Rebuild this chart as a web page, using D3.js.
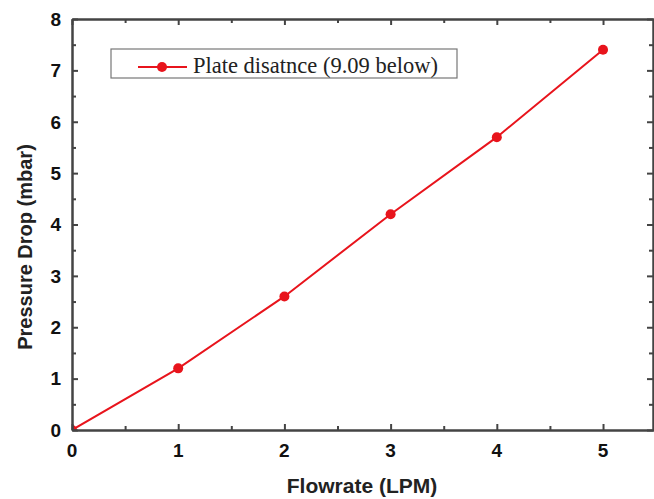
<!DOCTYPE html>
<html>
<head>
<meta charset="utf-8">
<script src="https://cdn.jsdelivr.net/npm/d3@7"></script>
<style>
  body { margin: 0; background: #fff; }
  svg { display: block; }
</style>
</head>
<body>
<div id="chart"></div>
<script>
// data
var flowrate = [0, 1, 2, 3, 4, 5];
var pressure = [0, 1.2, 2.6, 4.2, 5.7, 7.4];
var xTicks = [0, 1, 2, 3, 4, 5];
var yTicks = [0, 1, 2, 3, 4, 5, 6, 7, 8];
var seriesName = "Plate disatnce (9.09 below)";

var W = 654, H = 499;
var margin = {top: 19, right: 0, bottom: 69, left: 72};
var width = W - margin.left - margin.right,
    height = H - margin.top - margin.bottom;

var svg = d3.select("#chart")
  .append("svg")
    .attr("width", W)
    .attr("height", H);

var g = svg.append("g")
    .attr("transform", "translate(" + margin.left + "," + margin.top + ")");

var x = d3.scaleLinear().domain([0, 5.48]).range([0, width]);
var y = d3.scaleLinear().domain([0, 8]).range([height, 0]);

var axisColor = "#444";
var red = "#e8141c";

g.append("clipPath").attr("id", "clip")
  .append("rect").attr("width", width).attr("height", height);

// data line + markers
var pts = flowrate.map(function(d, i) { return [d, pressure[i]]; });
var plot = g.append("g").attr("clip-path", "url(#clip)");
plot.append("path")
  .datum(pts)
  .attr("fill", "none")
  .attr("stroke", red)
  .attr("stroke-width", 2)
  .attr("d", d3.line().x(function(d) { return x(d[0]); }).y(function(d) { return y(d[1]); }));
plot.selectAll("circle")
  .data(pts)
  .enter()
  .append("circle")
    .attr("cx", function(d) { return x(d[0]); })
    .attr("cy", function(d) { return y(d[1]); })
    .attr("r", 5)
    .attr("fill", red);

// axes with inward ticks, minor ticks at halves
var xMinor = d3.range(0.5, 5.5, 1);
var yMinor = d3.range(0.5, 8, 1);

function styleAxis(sel) {
  sel.selectAll("path").attr("stroke", axisColor).attr("stroke-width", 2);
  sel.selectAll("line").attr("stroke", axisColor).attr("stroke-width", 2);
  sel.selectAll("text").remove();
}

// bottom
g.append("g").attr("transform", "translate(0," + height + ")")
  .call(d3.axisTop(x).tickValues(xTicks).tickSize(6).tickSizeOuter(0)).call(styleAxis);
g.append("g").attr("transform", "translate(0," + height + ")")
  .call(d3.axisTop(x).tickValues(xMinor).tickSize(4).tickSizeOuter(0)).call(styleAxis);
// top
g.append("g")
  .call(d3.axisBottom(x).tickValues(xTicks).tickSize(6).tickSizeOuter(0)).call(styleAxis);
g.append("g")
  .call(d3.axisBottom(x).tickValues(xMinor).tickSize(4).tickSizeOuter(0)).call(styleAxis);
// left
g.append("g")
  .call(d3.axisRight(y).tickValues(yTicks).tickSize(6).tickSizeOuter(0)).call(styleAxis);
g.append("g")
  .call(d3.axisRight(y).tickValues(yMinor).tickSize(4).tickSizeOuter(0)).call(styleAxis);
// right
g.append("g").attr("transform", "translate(" + (width - 1) + ",0)")
  .call(d3.axisLeft(y).tickValues(yTicks).tickSize(6).tickSizeOuter(0)).call(styleAxis);
g.append("g").attr("transform", "translate(" + (width - 1) + ",0)")
  .call(d3.axisLeft(y).tickValues(yMinor).tickSize(4).tickSizeOuter(0)).call(styleAxis);

// tick labels
var labelFont = "Liberation Sans, Arial, sans-serif";
g.selectAll(".xlab")
  .data(xTicks)
  .enter()
  .append("text")
    .attr("x", function(d) { return x(d); })
    .attr("y", height + 27)
    .attr("text-anchor", "middle")
    .style("font-family", labelFont)
    .style("font-weight", "bold")
    .style("font-size", "19px")
    .attr("fill", "#111")
    .text(function(d) { return d; });
g.selectAll(".ylab")
  .data(yTicks)
  .enter()
  .append("text")
    .attr("x", -11)
    .attr("y", function(d) { return y(d); })
    .attr("dy", "0.36em")
    .attr("text-anchor", "end")
    .style("font-family", labelFont)
    .style("font-weight", "bold")
    .style("font-size", "19px")
    .attr("fill", "#111")
    .text(function(d) { return d; });

// axis titles
svg.append("text")
  .attr("x", 362)
  .attr("y", 493)
  .attr("text-anchor", "middle")
  .style("font-family", labelFont)
  .style("font-weight", "bold")
  .style("font-size", "21px")
  .attr("fill", "#222")
  .text("Flowrate (LPM)");
svg.append("text")
  .attr("transform", "translate(32," + 247 + ") rotate(-90)")
  .attr("text-anchor", "middle")
  .style("font-family", labelFont)
  .style("font-weight", "bold")
  .style("font-size", "20px")
  .attr("fill", "#222")
  .text("Pressure Drop (mbar)");

// legend
var leg = svg.append("g").attr("transform", "translate(111,49)");
leg.append("rect")
  .attr("width", 346).attr("height", 29)
  .attr("fill", "#fff")
  .attr("stroke", "#777").attr("stroke-width", 1.2);
leg.append("line")
  .attr("x1", 27).attr("x2", 76).attr("y1", 18).attr("y2", 18)
  .attr("stroke", red).attr("stroke-width", 2);
leg.append("circle")
  .attr("cx", 51).attr("cy", 18).attr("r", 5).attr("fill", red);
leg.append("text")
  .attr("x", 82).attr("y", 24)
  .style("font-family", "Liberation Serif, Times New Roman, serif")
  .style("font-size", "22.5px")
  .attr("fill", "#222")
  .text(seriesName);
</script>
</body>
</html>
